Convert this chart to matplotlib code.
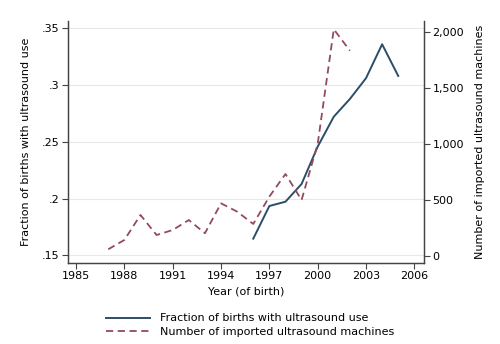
import matplotlib
matplotlib.use("Agg")
import matplotlib.pyplot as plt
from matplotlib.ticker import FuncFormatter

frac_years = [1996, 1997, 1998, 1999, 2000, 2001, 2002, 2003, 2004, 2005]
frac_values = [0.1646, 0.1934, 0.1972, 0.2128, 0.2457, 0.2721, 0.2877, 0.306, 0.3359, 0.308]

mach_years = [1987, 1988, 1989, 1990, 1991, 1992, 1993, 1994, 1995, 1996, 1997, 1998, 1999, 2000, 2001, 2002]
mach_values = [60, 143, 366, 187, 232, 321, 203, 470, 396, 286, 530, 732, 500, 1000, 2024, 1833]

x_ticks = [1985, 1988, 1991, 1994, 1997, 2000, 2003, 2006]
left_ticks = [0.15, 0.2, 0.25, 0.3, 0.35]
left_labels = [".15", ".2", ".25", ".3", ".35"]
right_ticks = [0, 500, 1000, 1500, 2000]

blue = "#2c4d68"
red = "#904c5e"
spine_c = "#444444"

plt.rcParams['font.family'] = ['DejaVu Sans']
fig = plt.figure(figsize=(5, 3.44), dpi=100)
ax = fig.add_axes([0.136, 0.2355, 0.712, 0.7035])
ax2 = ax.twinx()

ax.set_xlim(1984.5, 2006.6)
ax.set_ylim(0.1432, 0.3564)
ax2.set_ylim(-62.5, 2098)

for y in left_ticks:
    ax.axhline(y, color="#e8e8e8", lw=0.8, zorder=0)

l1, = ax.plot(frac_years, frac_values, color=blue, lw=1.4, zorder=3)
l2, = ax2.plot(mach_years, mach_values, color=red, lw=1.3, dashes=(4, 2.5))

ax.set_xticks(x_ticks)
ax.set_yticks(left_ticks)
ax.set_yticklabels(left_labels)
ax2.set_yticks(right_ticks)
ax2.yaxis.set_major_formatter(FuncFormatter(lambda v, p: f"{int(v):,}"))

for a in (ax, ax2):
    a.spines['top'].set_visible(False)
    for s in ('left', 'bottom', 'right'):
        a.spines[s].set_color(spine_c)
        a.spines[s].set_linewidth(0.9)
    a.tick_params(axis='both', labelsize=8, length=4, width=0.8, color=spine_c, pad=2)

ax.set_xlabel("Year (of birth)", fontsize=8, labelpad=4)
ax.set_ylabel("Fraction of births with ultrasound use", fontsize=8, labelpad=8)
ax2.set_ylabel("Number of imported ultrasound machines", fontsize=8, labelpad=8)

fig.legend([l1, l2], ["Fraction of births with ultrasound use", "Number of imported ultrasound machines"],
           loc="center", bbox_to_anchor=(0.5, 0.054), frameon=False, fontsize=8,
           handlelength=3.9, handletextpad=0.9, labelspacing=0.35)

fig.savefig("out.png", dpi=100)
